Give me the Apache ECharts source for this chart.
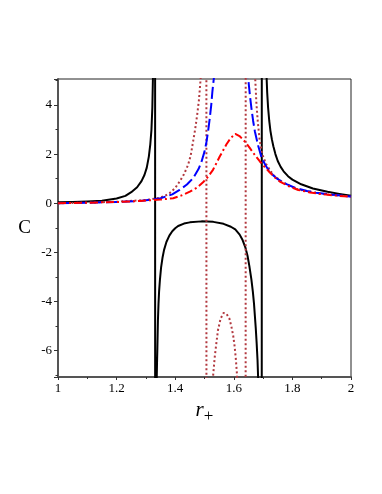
<!DOCTYPE html>
<html>
<head>
<meta charset="utf-8">
<script src="https://cdn.jsdelivr.net/npm/echarts@6/dist/echarts.min.js"></script>
<style>
  html, body { margin: 0; padding: 0; background: #fff; }
  #chart { width: 382px; height: 494px; }
</style>
</head>
<body>
<div id="chart"></div>
<script>
// black solid curve (poles near r=1.33 and r=1.70)
const blackR = [1.00, 1.05, 1.10, 1.15, 1.20, 1.23, 1.25, 1.27, 1.285, 1.295, 1.303, 1.31, 1.315, 1.319, 1.322, 1.324, 1.331,
  1.332, 1.337, 1.338, 1.339, 1.340, 1.341, 1.343, 1.345, 1.348, 1.352, 1.357, 1.362, 1.37, 1.38, 1.39, 1.40, 1.41, 1.43, 1.45, 1.49,
  1.53, 1.565, 1.59, 1.605, 1.62, 1.63, 1.64, 1.647, 1.653, 1.66, 1.665, 1.669, 1.672, 1.675, 1.678, 1.681, 1.683, 1.690,
  1.695, 1.696, 1.708, 1.712, 1.714, 1.717, 1.721, 1.725, 1.73, 1.735, 1.742, 1.75, 1.76, 1.77, 1.785, 1.80, 1.83, 1.87, 1.92, 1.96, 2.00]
const blackC = [0.04, 0.05, 0.07, 0.10, 0.19, 0.30, 0.45, 0.65, 0.90, 1.15, 1.45, 1.90, 2.40, 3.00, 3.90, 5.10, 40,
  -40, -7.1, -6.5, -6.0, -5.4, -4.8, -4.1, -3.6, -3.1, -2.6, -2.2, -1.9, -1.58, -1.32, -1.14, -1.02, -0.93, -0.83, -0.78, -0.74,
  -0.76, -0.84, -0.96, -1.07, -1.28, -1.50, -1.82, -2.15, -2.55, -3.10, -3.60, -4.10, -4.60, -5.10, -5.70, -6.40, -7.1, -40,
  -45, 45, 8, 5.1, 4.5, 3.9, 3.35, 2.95, 2.6, 2.32, 2.0, 1.72, 1.48, 1.30, 1.10, 0.96, 0.77, 0.60, 0.47, 0.38, 0.30]

// blue dashed curve
const blueR = [1.00, 1.10, 1.20, 1.28, 1.35, 1.39, 1.415, 1.44, 1.461, 1.48, 1.49, 1.50, 1.507, 1.513, 1.518, 1.523, 1.527, 1.532, 1.545, 1.59,
  1.635, 1.649, 1.655, 1.66, 1.666, 1.672, 1.683, 1.695, 1.708, 1.72, 1.735, 1.75, 1.78, 1.81, 1.85, 1.88, 1.94, 2.00]
const blueC = [0.00, 0.02, 0.05, 0.09, 0.20, 0.36, 0.54, 0.76, 1.02, 1.40, 1.70, 2.10, 2.51, 3.00, 3.47, 4.00, 4.56, 5.10, 9, 30,
  9, 5.1, 4.4, 3.88, 3.35, 2.92, 2.35, 1.85, 1.55, 1.32, 1.13, 0.98, 0.78, 0.62, 0.50, 0.43, 0.34, 0.27]

// red dash-dot curve
const redR = [1.00, 1.10, 1.20, 1.28, 1.35, 1.393, 1.42, 1.45, 1.475, 1.495, 1.512, 1.529, 1.552, 1.575, 1.59, 1.605, 1.621, 1.64, 1.655, 1.672, 1.689,
  1.705, 1.723, 1.74, 1.757, 1.79, 1.82, 1.86, 1.90, 1.95, 2.00]
const redC = [0.00, 0.02, 0.05, 0.09, 0.15, 0.20, 0.31, 0.47, 0.64, 0.85, 1.08, 1.36, 1.90, 2.40, 2.66, 2.82, 2.72, 2.48, 2.24, 1.96, 1.70,
  1.48, 1.25, 1.05, 0.88, 0.68, 0.54, 0.44, 0.37, 0.31, 0.26]

// brown dotted curve (poles near r=1.507 and r=1.641)
const brownR = [1.00, 1.10, 1.20, 1.30, 1.347, 1.365, 1.381, 1.40, 1.415, 1.43, 1.444, 1.453, 1.461, 1.468, 1.475, 1.481, 1.487, 1.497,
  1.506, 1.507, 1.52, 1.529, 1.535, 1.541, 1.546, 1.555, 1.565, 1.575, 1.585, 1.592, 1.598, 1.603, 1.607, 1.611, 1.62, 1.640,
  1.641, 1.66, 1.673, 1.677, 1.682, 1.688, 1.697, 1.71, 1.734, 1.77, 1.82, 1.90, 2.00]
const brownC = [0.00, 0.02, 0.06, 0.13, 0.22, 0.30, 0.41, 0.62, 0.88, 1.18, 1.56, 1.95, 2.51, 3.00, 3.60, 4.20, 5.10, 40,
  45, -45, -12, -7.08, -6.26, -5.65, -5.17, -4.70, -4.47, -4.50, -4.70, -5.04, -5.40, -5.85, -6.35, -7.00, -12, -45,
  45, 12, 5.1, 4.1, 3.3, 2.6, 2.0, 1.6, 1.16, 0.82, 0.56, 0.38, 0.27]

function zip(xs, ys) {
  return xs.map((x, i) => [x, ys[i]])
}

const chart = echarts.init(document.getElementById('chart'), null, { renderer: 'canvas' })

const serif = 'Liberation Serif'

function curve(name, r, c, color, dash, width) {
  return {
    name: name,
    type: 'line',
    data: zip(r, c),
    showSymbol: false,
    smooth: false,
    clip: true,
    animation: false,
    lineStyle: {
      color: color,
      width: width,
      type: dash,
      cap: 'butt',
      join: 'round'
    }
  }
}

chart.setOption({
  animation: false,
  backgroundColor: '#fff',
  grid: {
    left: 58,
    right: 31,
    top: 79,
    bottom: 117,
    show: true,
    borderColor: '#222',
    borderWidth: 1
  },
  xAxis: {
    type: 'value',
    min: 1,
    max: 2,
    interval: 0.2,
    name: '{r|r}{s|+}',
    nameLocation: 'middle',
    nameGap: 16,
    nameTextStyle: {
      rich: {
        r: { fontFamily: serif, fontStyle: 'italic', fontSize: 21, color: '#000' },
        s: { fontFamily: serif, fontSize: 17, color: '#000', padding: [12, 0, 0, 0] }
      }
    },
    axisLine: { onZero: false, lineStyle: { color: '#555', width: 2 } },
    axisTick: { length: 3, lineStyle: { color: '#333' } },
    minorTick: { show: true, splitNumber: 2, length: 2, lineStyle: { color: '#333' } },
    splitLine: { show: false },
    axisLabel: {
      margin: 5,
      fontFamily: serif,
      fontSize: 13,
      color: '#000',
      formatter: v => String(Math.round(v * 10) / 10)
    }
  },
  yAxis: {
    type: 'value',
    min: -7.08,
    max: 5.06,
    splitNumber: 6,
    name: 'C',
    nameLocation: 'middle',
    nameRotate: 0,
    nameGap: 27,
    nameTextStyle: { fontFamily: serif, fontSize: 19, color: '#000' },
    axisLine: { onZero: false, lineStyle: { color: '#555', width: 2 } },
    axisTick: { length: 4, lineStyle: { color: '#333' } },
    minorTick: { show: true, splitNumber: 2, length: 2.5, lineStyle: { color: '#333' } },
    splitLine: { show: false },
    axisLabel: {
      margin: 6,
      fontFamily: serif,
      fontSize: 13,
      color: '#000',
      showMinLabel: false,
      showMaxLabel: false,
      formatter: v => (Math.abs(v % 2) < 1e-6 ? String(v) : '')
    }
  },
  series: [
    curve('black', blackR, blackC, '#000000', 'solid', 2),
    curve('brown', brownR, brownC, '#b2383f', [2, 2.5], 2),
    curve('blue', blueR, blueC, '#0000ff', [12, 4], 2),
    curve('red', redR, redC, '#ff0000', [8, 3, 2, 3], 2)
  ]
})
</script>
</body>
</html>
